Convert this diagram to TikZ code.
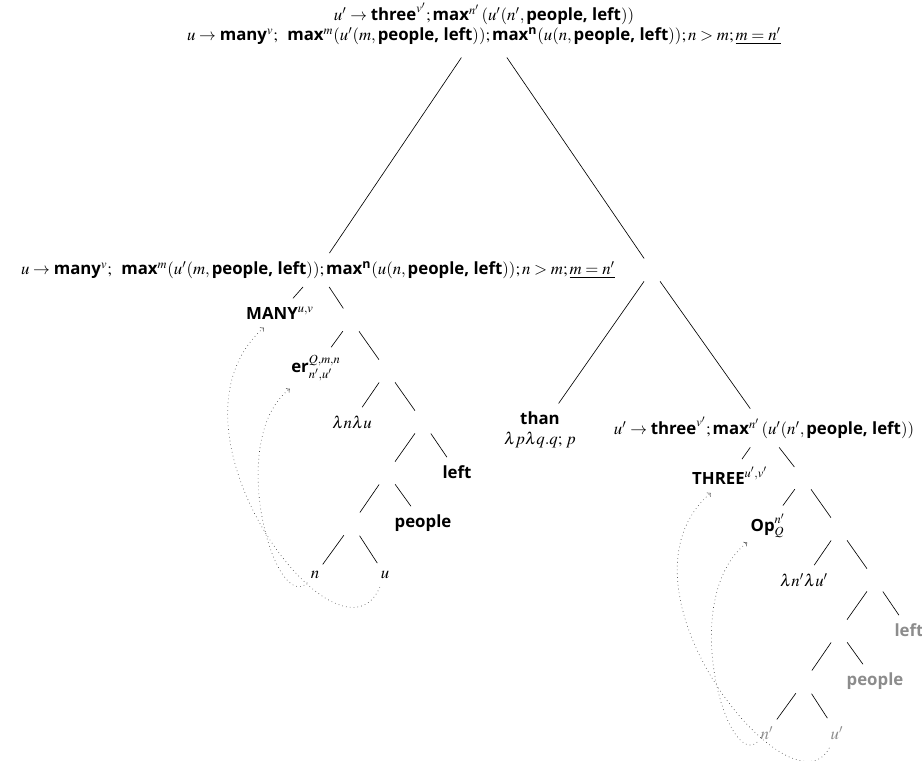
\documentclass[tikz,border=0pt]{standalone}
\usepackage{amsmath}
\usepackage{mathptmx}
\usepackage[no-math]{fontspec}
\newfontfamily\wordfont{Open Sans}
\newcommand{\lex}[1]{\text{\wordfont\bfseries #1}}
\newcommand{\manyline}{$u\rightarrow\lex{many}^{v};\;\;\lex{max}^{m}(u'(m,\lex{people, left}));\lex{max}^{\lex{n}}(u(n,\lex{people, left}));n>m;\underline{m=n'}$}
\newcommand{\threeline}{$u'\rightarrow\lex{three}^{v'};\lex{max}^{n'}\,(u'(n',\lex{people, left}))$}

\begin{document}
\begin{tikzpicture}
[x=0.625pt,y=-0.625pt,
 lbl/.style={inner xsep=2pt,inner ysep=5pt,font=\fontsize{10.5}{12.6}\selectfont},
 gap/.style={circle,minimum size=17pt,inner sep=0pt},
 copy/.style={lbl,text=black!45},
 trace/.style={->,dotted,black!75}]
\useasboundingbox (0,0) rectangle (922,760);
\node[lbl,align=center,inner ysep=7.5pt] (root) at (484,24) {\threeline\\\manyline};
\node[lbl] (L) at (318,270) {\manyline};
\node[gap] (R) at (652,270) {};
% many side
\node[lbl] (MANY) at (280,313) {$\lex{MANY}^{u,v}$};
\node[gap] (e1) at (351,320) {};
\node[lbl] (er) at (316,368) {$\lex{er}^{Q,m,n}_{n',u'}$};
\node[gap] (e2) at (387,371) {};
\node[lbl] (lam) at (352,422) {$\lambda n\lambda u$};
\node[gap] (e3) at (423,422) {};
\node[lbl] (left1) at (457,472) {\lex{left}};
\node[gap] (e4) at (387,473) {};
\node[lbl] (people1) at (423,523) {\lex{people}};
\node[gap] (e5) at (352,524) {};
\node[lbl] (n) at (315,575) {$n$};
\node[lbl] (u) at (385,575) {$u$};
% three side
\node[lbl,align=center] (than) at (540,430) {\lex{than}\\$\lambda p\lambda q.q;\,p$};
\node[lbl] (R2) at (764,428) {\threeline};
\node[lbl] (THREE) at (730,476) {$\lex{THREE}^{u',v'}$};
\node[gap] (e6) at (803,478) {};
\node[lbl] (Op) at (768,526) {$\lex{Op}^{n'}_{Q}$};
\node[gap] (e7) at (839,529) {};
\node[lbl] (lam2) at (804,580) {$\lambda n'\lambda u'$};
\node[gap] (e8) at (875,580) {};
\node[copy] (left2) at (909,630) {\lex{left}};
\node[gap] (e9) at (839,631) {};
\node[copy] (people2) at (875,681) {\lex{people}};
\node[gap] (e10) at (804,682) {};
\node[copy] (n2) at (767,733) {$n'$};
\node[copy] (u2) at (837,733) {$u'$};
\path (root) edge (L) edge (R)
(L) edge (MANY) edge (e1)
(e1) edge (er) edge (e2)
(e2) edge (lam) edge (e3)
(e3) edge (e4) edge (left1)
(e4) edge (e5) edge (people1)
(e5) edge (n) edge (u)
(R) edge (than) edge (R2)
(R2) edge (THREE) edge (e6)
(e6) edge (Op) edge (e7)
(e7) edge (lam2) edge (e8)
(e8) edge (e9) edge (left2)
(e9) edge (e10) edge (people2)
(e10) edge (n2) edge (u2);
% movement
\draw[trace] (n) .. controls (275,615) and (225,440) .. (er);
\draw[trace] (u) .. controls (340,680) and (150,430) .. (MANY);
\draw[trace] (n2) .. controls (727,770) and (677,598) .. (Op);
\draw[trace] (u2) .. controls (792,820) and (602,588) .. (THREE);
\end{tikzpicture}
\end{document}
